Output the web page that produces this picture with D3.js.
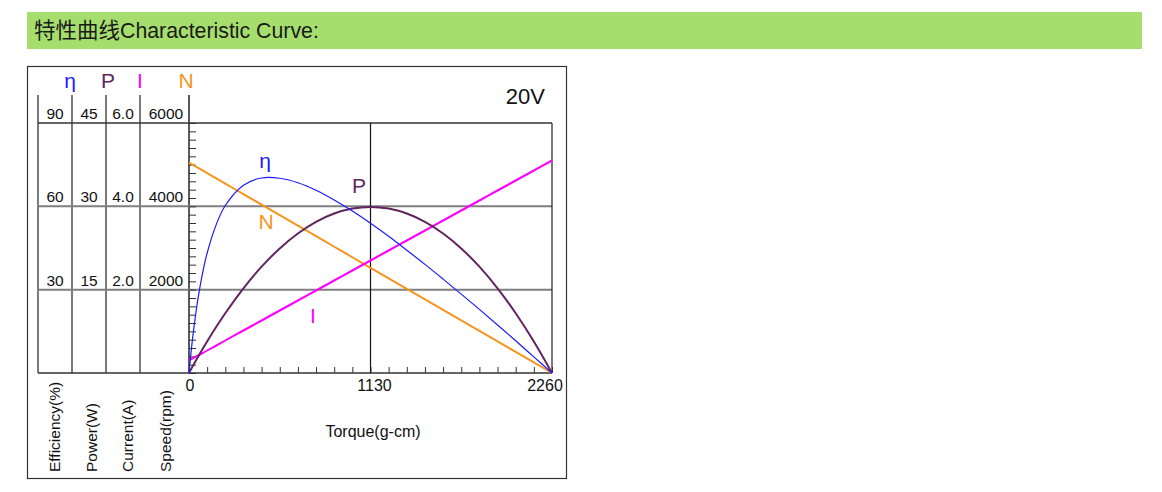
<!DOCTYPE html>
<html><head><meta charset="utf-8">
<script src="https://cdn.jsdelivr.net/npm/d3@7"></script>
<style>
html,body{margin:0;padding:0;background:#fff;}
svg{display:block;font-family:"Liberation Sans",Arial,sans-serif;}
</style></head>
<body><svg id="c" width="1162" height="492"></svg>
<script>
// ---- data ----
const torque = [0,23,45,68,90,113,170,226,339,452,565,678,791,904,1017,1130,1243,1356,1469,1582,1695,1808,1921,2034,2147,2260];
const efficiency = [0,12.8,22.6,30.9,37.5,43.2,53.5,60.3,67.6,70.2,70.1,68.5,65.8,62.3,58.3,53.9,49.2,44.2,39.1,33.8,28.4,22.9,17.3,11.6,5.8,0];
const power = [0,1.21,2.33,3.49,4.57,5.68,8.32,10.76,15.25,19.14,22.43,25.12,27.21,28.70,29.60,29.90,29.60,28.70,27.21,25.12,22.43,19.14,15.25,10.76,5.68,0];
const current = [0.30,0.35,0.40,0.44,0.49,0.54,0.66,0.78,1.02,1.26,1.50,1.74,1.98,2.22,2.46,2.70,2.94,3.18,3.42,3.66,3.90,4.14,4.38,4.62,4.86,5.10];
const speed = [5050,4998,4950,4898,4849,4798,4670,4545,4293,4040,3788,3535,3283,3030,2778,2525,2273,2020,1768,1515,1263,1010,758,505,253,0];
const xTickLabels = [0,1130,2260];
const effTicks = [90,60,30];
const powTicks = [45,30,15];
const curTicks = ["6.0","4.0","2.0"];
const spdTicks = [6000,4000,2000];
const axisTitles = ["Efficiency(%)","Power(W)","Current(A)","Speed(rpm)"];
const titleCJK = "特性曲线";
const titleLatin = "Characteristic Curve:";
const voltage = "20V";

// ---- layout ----
const svg = d3.select("#c");
const X0=189, X1=552, Y0=373, Y1=123;
const x = d3.scaleLinear().domain([0,2260]).range([X0,X1]);
const ySpd = d3.scaleLinear().domain([0,6000]).range([Y0,Y1]);
const yEff = d3.scaleLinear().domain([0,90]).range([Y0,Y1]);
const yPow = d3.scaleLinear().domain([0,45]).range([Y0,Y1]);
const yCur = d3.scaleLinear().domain([0,6]).range([Y0,Y1]);

const colors = {eta:"#1a1aff", P:"#612461", I:"#ff00ff", N:"#f7941d"};

// title bar
svg.append("rect").attr("x",27).attr("y",12).attr("width",1115).attr("height",37).attr("fill","#a6de6e");
const tt = svg.append("text").attr("x",34).attr("y",38).attr("fill","#1a1a1a");
tt.append("tspan").attr("font-size",21.5).style("font-family","'Noto Sans CJK SC',sans-serif").text(titleCJK);
tt.append("tspan").attr("font-size",21.3).style("font-family","'Liberation Sans',Arial,sans-serif").text(titleLatin);

// outer box
svg.append("rect").attr("x",27.5).attr("y",66.5).attr("width",539).attr("height",412)
  .attr("fill","none").attr("stroke","#333").attr("stroke-width",1.2);

// column separators
const colX=[38,72,106,140,189];
colX.forEach(cx=>{
  svg.append("line").attr("x1",cx).attr("x2",cx).attr("y1",95).attr("y2",Y0)
    .attr("stroke","#222").attr("stroke-width",cx===189?1.5:1.2);
});

// horizontal grid
[6000,4000,2000,0].forEach(v=>{
  const y=ySpd(v);
  const gray = (v===4000||v===2000);
  svg.append("line").attr("x1",38).attr("x2",X1).attr("y1",y).attr("y2",y)
    .attr("stroke",gray?"#7f7f7f":"#333").attr("stroke-width",gray?2:1.3);
});
// right border and middle vertical
svg.append("line").attr("x1",X1).attr("x2",X1).attr("y1",Y1).attr("y2",Y0).attr("stroke","#222").attr("stroke-width",1.2);
svg.append("line").attr("x1",x(1130)).attr("x2",x(1130)).attr("y1",Y1).attr("y2",Y0).attr("stroke","#111").attr("stroke-width",1.2);

// y minor ticks (speed axis)
const yAxis = d3.axisRight(ySpd).tickValues(d3.range(0,6001,200)).tickSize(7).tickFormat("");
const ya = svg.append("g").attr("transform",`translate(${X0},0)`).call(yAxis);
ya.select(".domain").remove();
ya.selectAll("line").attr("stroke","#333");

// x minor ticks
const xAxis = d3.axisTop(x).tickValues(d3.range(0,2261,113)).tickSize(6).tickFormat("");
const xa = svg.append("g").attr("transform",`translate(0,${Y0})`).call(xAxis);
xa.select(".domain").remove();
xa.selectAll("line").attr("stroke","#333");

// x tick labels
const xOff={0:1,1130:4,2260:-7};
svg.selectAll(".xl").data(xTickLabels).join("text")
  .attr("x",d=>x(d)+xOff[d]).attr("y",391).attr("text-anchor","middle").attr("font-size",16).attr("fill","#111").text(d=>d);
svg.append("text").attr("x",373).attr("y",437).attr("text-anchor","middle").attr("font-size",16).attr("fill","#111").text("Torque(g-cm)");

// column tick labels
const colCenters=[55,89,123,166];
const tickSets=[effTicks,powTicks,curTicks,spdTicks];
const tickY=[yEff(90),yEff(60),yEff(30)];
tickSets.forEach((set,ci)=>{
  set.forEach((t,i)=>{
    svg.append("text").attr("x",colCenters[ci]).attr("y",tickY[i]-4).attr("text-anchor","middle")
      .attr("font-size",15.5).attr("fill","#111").text(t);
  });
});

// column header symbols
const heads=[["η",70,colors.eta],["P",108,colors.P],["I",140,colors.I],["N",186,colors.N]];
heads.forEach(h=>{
  svg.append("text").attr("x",h[1]).attr("y",88).attr("text-anchor","middle").attr("font-size",21).attr("fill",h[2]).text(h[0]);
});

// rotated axis titles
const titleX=[60,97,133,171];
axisTitles.forEach((t,i)=>{
  svg.append("text").attr("transform",`translate(${titleX[i]},472) rotate(-90)`)
    .attr("font-size",15.5).attr("fill","#111").text(t);
});

// voltage
svg.append("text").attr("x",545).attr("y",104).attr("text-anchor","end").attr("font-size",22).attr("fill","#111").text(voltage);

// curves
function drawLine(vals, yScale, color, w){
  const line = d3.line().x((d,i)=>x(torque[i])).y(d=>yScale(d)).curve(d3.curveCatmullRom.alpha(0.5));
  svg.append("path").datum(vals).attr("d",line).attr("fill","none").attr("stroke",color).attr("stroke-width",w);
}
drawLine(speed, ySpd, colors.N, 2);
drawLine(current, yCur, colors.I, 2);
drawLine(power, yPow, colors.P, 2);
drawLine(efficiency, yEff, colors.eta, 1.2);

// in-plot labels
const inLabels=[["η",265,168,colors.eta],["P",359,193,colors.P],["N",266,229,colors.N],["I",313,323,colors.I]];
inLabels.forEach(l=>{
  svg.append("text").attr("x",l[1]).attr("y",l[2]).attr("text-anchor","middle").attr("font-size",21).attr("fill",l[3]).text(l[0]);
});
</script></body></html>
